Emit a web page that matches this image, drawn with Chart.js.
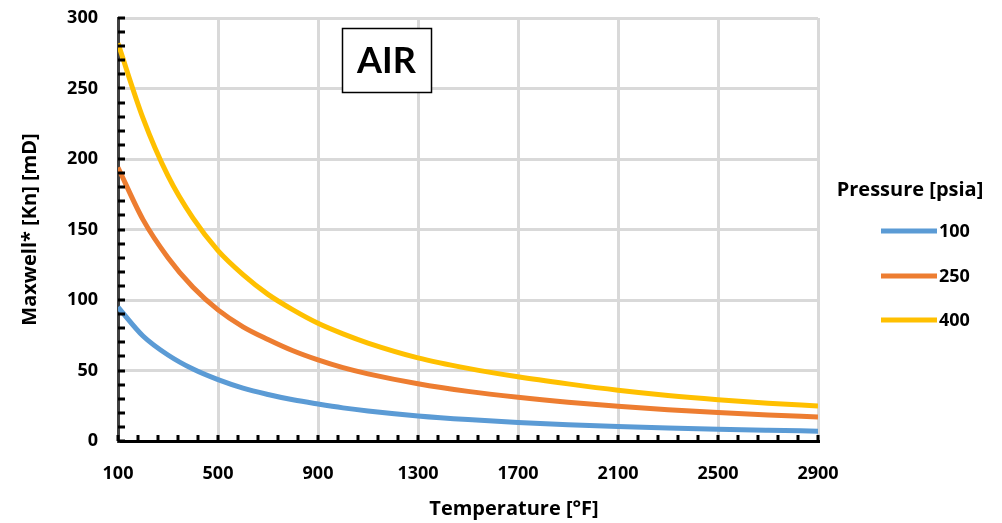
<!DOCTYPE html>
<html>
<head>
<meta charset="utf-8">
<script src="https://cdn.jsdelivr.net/npm/chart.js@4/dist/chart.umd.min.js"></script>
<style>
  html, body { margin: 0; padding: 0; background: #fff; }
  #wrap { width: 1002px; height: 523px; position: relative; }
</style>
</head>
<body>
<div id="wrap"><canvas id="chart"></canvas></div>
<script>
// Temperature (°F) sample points along each pressure curve
var temps = [100, 200, 300, 400, 500, 600, 700, 800, 900, 1000, 1100, 1300, 1500, 1700, 1900, 2100, 2300, 2500, 2700, 2900];
var psia100 = [95, 74.5, 61, 51, 43.5, 37.5, 33, 29.2, 26.2, 23.5, 21.3, 17.8, 15.2, 13.2, 11.6, 10.3, 9.2, 8.3, 7.6, 7];
var psia250 = [194, 157, 130, 109, 93, 81, 72, 64, 57.5, 52, 47.6, 40.6, 35.2, 31, 27.5, 24.6, 22.2, 20.2, 18.5, 17];
var psia400 = [282, 229, 188, 158, 135, 118, 104, 93, 83.5, 76, 69.5, 59, 51.5, 45.5, 40.5, 36, 32.3, 29.3, 26.8, 24.8];
var seriesNames = ['100', '250', '400'];
var seriesColors = ['#5B9BD5', '#ED7D31', '#FFC000'];

var xMajor = 400, xMinor = 80;
var yMajor = 50, yMinor = 10;
var FONT = '"Open Sans", sans-serif';

function points(values) {
  return temps.map(function (t, i) { return {x: t, y: values[i]}; });
}

var datasets = [psia100, psia250, psia400].map(function (vals, i) {
  return {
    label: seriesNames[i],
    data: points(vals),
    borderColor: seriesColors[i],
    backgroundColor: seriesColors[i],
    borderWidth: 5,
    pointRadius: 0,
    cubicInterpolationMode: 'monotone',
    fill: false
  };
});

// short inward tick marks on both axes, plus the boxed label, legend and x title
var decorations = {
  id: 'decorations',
  afterDraw: function (chart) {
    var ctx = chart.ctx;
    var area = chart.chartArea;
    var xs = chart.scales.x, ys = chart.scales.y;
    ctx.save();
    ctx.fillStyle = '#000';
    xs.ticks.forEach(function (t) {
      var px = Math.round(xs.getPixelForValue(t.value));
      ctx.fillRect(px - 1.5, area.bottom - 6, 3, 6);
    });
    ys.ticks.forEach(function (t) {
      var py = Math.round(ys.getPixelForValue(t.value));
      ctx.fillRect(area.left, py - 1.5, 7, 3);
    });

    // AIR box
    ctx.fillStyle = '#fff';
    ctx.fillRect(342, 28, 89, 64);
    ctx.strokeStyle = '#000';
    ctx.lineWidth = 1.5;
    ctx.strokeRect(342.5, 28.5, 89, 64);
    ctx.fillStyle = '#000';
    ctx.font = 'bold 36px Lato, sans-serif';
    ctx.textAlign = 'center';
    ctx.textBaseline = 'middle';
    ctx.fillText('AIR', 386.5, 61);

    // x axis title
    ctx.font = 'bold 20px ' + FONT;
    ctx.fillText('Temperature [°F]', 514, 509);

    // legend
    ctx.fillText('Pressure [psia]', 910, 190);
    ctx.font = 'bold 18px ' + FONT;
    ctx.textAlign = 'left';
    var rowY = [231, 276, 320];
    chart.data.datasets.forEach(function (ds, i) {
      ctx.strokeStyle = ds.borderColor;
      ctx.lineWidth = 5;
      ctx.beginPath();
      ctx.moveTo(881, rowY[i]);
      ctx.lineTo(937, rowY[i]);
      ctx.stroke();
      ctx.fillStyle = '#000';
      ctx.fillText(ds.label, 939, rowY[i] + 1);
    });
    ctx.restore();
  }
};

var config = {
  type: 'line',
  data: { datasets: datasets },
  options: {
    responsive: true,
    maintainAspectRatio: false,
    animation: false,
    layout: { padding: { left: 0, top: 18, right: 184, bottom: 0 } },
    plugins: {
      legend: { display: false },
      tooltip: { enabled: false }
    },
    scales: {
      x: {
        type: 'linear',
        min: 100,
        max: 2900,
        afterFit: function (scale) {
          scale.height = 82;
          scale.paddingLeft = 0;
          scale.paddingRight = 0;
        },
        ticks: {
          stepSize: xMinor,
          autoSkip: false,
          maxRotation: 0,
          padding: 22,
          color: '#000',
          font: { family: FONT, size: 18, weight: 'bold' },
          callback: function (v) { return (v - 100) % xMajor === 0 ? String(v) : ''; }
        },
        grid: {
          drawTicks: false,
          lineWidth: 3,
          color: function (c) {
            return c.tick && (c.tick.value - 100) % xMajor === 0 ? '#d9d9d9' : 'rgba(0,0,0,0)';
          }
        },
        border: { color: '#000', width: 3 }
      },
      y: {
        min: 0,
        max: 300,
        afterFit: function (scale) {
          scale.width = 118;
          scale.paddingTop = 0;
          scale.paddingBottom = 0;
        },
        ticks: {
          stepSize: yMinor,
          autoSkip: false,
          padding: 20,
          color: '#000',
          font: { family: FONT, size: 18, weight: 'bold' },
          callback: function (v) { return v % yMajor === 0 ? String(v) : ''; }
        },
        grid: {
          drawTicks: false,
          lineWidth: 3,
          color: function (c) {
            return c.tick && c.tick.value % yMajor === 0 ? '#d9d9d9' : 'rgba(0,0,0,0)';
          }
        },
        border: { color: '#404040', width: 3 },
        title: {
          display: true,
          text: 'Maxwell* [Kn] [mD]',
          color: '#000',
          font: { family: FONT, size: 20, weight: 'bold' },
          padding: { top: 18, bottom: 0 }
        }
      }
    }
  },
  plugins: [decorations]
};

new Chart(document.getElementById('chart').getContext('2d'), config);
</script>
</body>
</html>
